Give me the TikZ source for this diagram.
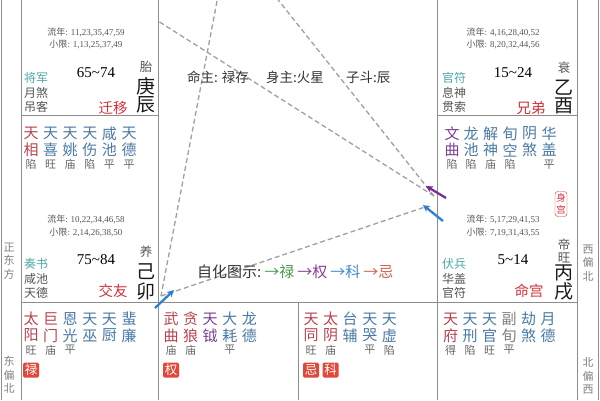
\documentclass[tikz,border=0pt]{standalone}
\usepackage{fontspec}
\setmainfont{Liberation Serif}
\newfontfamily\cjk{Noto Sans CJK SC}
\usetikzlibrary{arrows.meta}
\definecolor{gridc}{HTML}{8C8C8C}
\definecolor{dashc}{HTML}{A0A0A0}
\definecolor{sred}{HTML}{B8434F}
\definecolor{sblue}{HTML}{4A7AA5}
\definecolor{spurp}{HTML}{7B3F95}
\definecolor{sgray}{HTML}{808080}
\definecolor{brc}{HTML}{666666}
\definecolor{tealc}{HTML}{4FA8A8}
\definecolor{pred}{HTML}{D2323C}
\definecolor{darkt}{HTML}{333333}
\definecolor{midg}{HTML}{555555}
\definecolor{hgreen}{HTML}{4C9A4C}
\definecolor{hpurp}{HTML}{8A3C96}
\definecolor{hblue}{HTML}{3C8AD2}
\definecolor{hred}{HTML}{D4604F}
\definecolor{boxred}{HTML}{E2483A}
\definecolor{arblue}{HTML}{2F7FD0}
\definecolor{arpurp}{HTML}{7A2A9A}
\tikzset{
  gridl/.style={draw=gridc, line width=0.9pt},
  dashl/.style={draw=dashc, line width=1.3pt, dash pattern=on 5pt off 3pt},
  arrowl/.style={line width=2.3pt, -{Stealth[length=7pt,width=7pt]}},
  xf/.style={inner sep=0pt, font=\cjk\fontsize{15}{15}\selectfont},
  bf/.style={inner sep=0pt, text=brc, font=\cjk\fontsize{11}{11}\selectfont},
  lnf/.style={inner sep=0pt, text=midg, font=\fontsize{9}{9}\selectfont},
  agef/.style={inner sep=0pt, text=black, font=\fontsize{15}{15}\selectfont},
  godf/.style={inner sep=0pt, anchor=west, text=midg, font=\cjk\fontsize{12}{12}\selectfont},
  pnf/.style={inner sep=0pt, text=pred, font=\cjk\fontsize{14.5}{14.5}\selectfont},
  gzf/.style={inner sep=0pt, text=black!90, font=\cjk\fontsize{19}{19}\selectfont},
  csf/.style={inner sep=0pt, text=midg, font=\cjk\fontsize{12.5}{12.5}\selectfont},
  dirf/.style={inner sep=0pt, align=center, text=sgray, font=\cjk\fontsize{11}{13.5}\selectfont},
  midf/.style={inner sep=0pt, anchor=west, text=darkt, font=\cjk\fontsize{13.5}{13.5}\selectfont},
  hbox/.style={fill=boxred, text=white, inner sep=0pt, minimum width=16pt, minimum height=15pt, rounded corners=1.5pt, font=\cjk\fontsize{12.5}{12.5}\selectfont},
}
\newcommand\xing[7]{%
  \node[xf,text=#4] (#1-a) at (#2,#3) {#5};
  \node[xf,text=#4] (#1-b) at (#2,#3+16.5) {#6};
  \if\relax\detokenize{#7}\relax\else
  \node[bf] (#1-c) at (#2,#3+31) {#7};\fi
}
\begin{document}
\begin{tikzpicture}[x=1pt,y=-1pt]
\useasboundingbox (0,0) rectangle (600,400);
\fill[white] (0,0) rectangle (600,400);
\begin{scope}
\clip (0,0) rectangle (600,400);
% grid
\draw[gridl] (1.5,0) -- (1.5,400);
\draw[gridl] (598,0) -- (598,400);
\draw[gridl] (21,0) -- (21,400);
\draw[gridl] (158,0) -- (158,400);
\draw[gridl] (437,0) -- (437,400);
\draw[gridl] (577,0) -- (577,400);
\draw[gridl] (298,302) -- (298,400);
\draw[gridl] (21,115) -- (158,115);
\draw[gridl] (437,115) -- (577,115);
\draw[gridl] (21,302) -- (577,302);
% dashed triangle
\coordinate (xu) at (434,196);
\coordinate (xu2) at (428,206);
\coordinate (chen) at (158,21);
\coordinate (wu) at (229,-62);
\coordinate (yin) at (161,296);
\draw[dashl] (xu) -- (chen);
\draw[dashl] (xu) -- (wu);
\draw[dashl] (wu) -- (yin);
\draw[dashl] (yin) -- (xu2);
\end{scope}
% arrows
\coordinate (pa1) at (446,198);
\coordinate (pa2) at (426,186);
\coordinate (ba1) at (443,221);
\coordinate (ba2) at (423,205);
\coordinate (bb1) at (155,308);
\coordinate (bb2) at (174,290);
\draw[arrowl, draw=arpurp, fill=arpurp] (pa1) -- (pa2);
\draw[arrowl, draw=arblue, fill=arblue] (ba1) -- (ba2);
\draw[arrowl, draw=arblue, fill=arblue] (bb1) -- (bb2);

% ===== 辰 palace (top-left)
\node[lnf] (chen-ln) at (86,32) {{\cjk 流年}: 11,23,35,47,59};
\node[lnf] (chen-xx) at (86,44) {{\cjk 小限}: 1,13,25,37,49};
\node[csf] (chen-cs) at (146,67) {胎};
\node[gzf] (chen-g1) at (146,86) {庚};
\node[gzf] (chen-g2) at (146,105) {辰};
\node[agef] (chen-age) at (96,73) {65\textasciitilde 74};
\node[godf,text=tealc] (chen-s1) at (24,78) {将军};
\node[godf] (chen-s2) at (24,93) {月煞};
\node[godf] (chen-s3) at (24,107) {吊客};
\node[pnf] (chen-pn) at (113,108) {迁移};

% ===== 酉 palace (top-right)
\node[lnf] (you-ln) at (503,32) {{\cjk 流年}: 4,16,28,40,52};
\node[lnf] (you-xx) at (503,44) {{\cjk 小限}: 8,20,32,44,56};
\node[csf] (you-cs) at (564,68) {衰};
\node[gzf] (you-g1) at (564,88) {乙};
\node[gzf] (you-g2) at (564,106) {酉};
\node[agef] (you-age) at (513,73) {15\textasciitilde 24};
\node[godf,text=tealc] (you-s1) at (442,78) {官符};
\node[godf] (you-s2) at (442,93) {息神};
\node[godf] (you-s3) at (442,107) {贯索};
\node[pnf] (you-pn) at (531,108) {兄弟};

% ===== 卯 palace (left middle)
\xing{m1}{31}{133.5}{sred}{天}{相}{陷}
\xing{m2}{50.6}{133.5}{sblue}{天}{喜}{旺}
\xing{m3}{70.2}{133.5}{sblue}{天}{姚}{庙}
\xing{m4}{89.8}{133.5}{sblue}{天}{伤}{陷}
\xing{m5}{109.4}{133.5}{sblue}{咸}{池}{平}
\xing{m6}{129}{133.5}{sblue}{天}{德}{平}
\node[lnf] (mao-ln) at (86,219) {{\cjk 流年}: 10,22,34,46,58};
\node[lnf] (mao-xx) at (86,232) {{\cjk 小限}: 2,14,26,38,50};
\node[csf] (mao-cs) at (146,252) {养};
\node[gzf] (mao-g1) at (146,272) {己};
\node[gzf] (mao-g2) at (146,291) {卯};
\node[agef] (mao-age) at (96,260) {75\textasciitilde 84};
\node[godf,text=tealc] (mao-s1) at (24,264) {奏书};
\node[godf] (mao-s2) at (24,279) {咸池};
\node[godf] (mao-s3) at (24,293) {天德};
\node[pnf] (mao-pn) at (113,291) {交友};

% ===== 戌 palace (right middle)
\xing{x1}{452}{133.5}{spurp}{文}{曲}{陷}
\xing{x2}{471}{133.5}{sblue}{龙}{池}{陷}
\xing{x3}{490.5}{133.5}{sblue}{解}{神}{庙}
\xing{x4}{510}{133.5}{sblue}{旬}{空}{陷}
\xing{x5}{529.5}{133.5}{sblue}{阴}{煞}{}
\xing{x6}{549}{133.5}{sblue}{华}{盖}{平}
\node[draw=pred, text=pred, rounded corners=3pt, inner sep=1pt, minimum width=12pt, minimum height=25pt, align=center, font=\cjk\fontsize{9.5}{12}\selectfont] (shen) at (561,204) {身\\宫};
\node[lnf] (xu-ln) at (503,219) {{\cjk 流年}: 5,17,29,41,53};
\node[lnf] (xu-xx) at (503,232) {{\cjk 小限}: 7,19,31,43,55};
\node[csf] (xu-cs1) at (564,245) {帝};
\node[csf] (xu-cs2) at (564,257.5) {旺};
\node[gzf] (xu-g1) at (564,273) {丙};
\node[gzf] (xu-g2) at (564,291) {戌};
\node[agef] (xu-age) at (513,260) {5\textasciitilde 14};
\node[godf,text=tealc] (xu-s1) at (442,264) {伏兵};
\node[godf] (xu-s2) at (442,279) {华盖};
\node[godf] (xu-s3) at (442,293) {官符};
\node[pnf] (xu-pn) at (529,291) {命宫};

% ===== 寅 palace (bottom-left)
\xing{y1}{31}{319}{sred}{太}{阳}{旺}
\xing{y2}{50.6}{319}{sred}{巨}{门}{庙}
\xing{y3}{70.2}{319}{sblue}{恩}{光}{平}
\xing{y4}{89.8}{319}{sblue}{天}{巫}{}
\xing{y5}{109.4}{319}{sblue}{天}{厨}{}
\xing{y6}{129}{319}{sblue}{蜚}{廉}{}
\node[hbox] (yin-lu) at (31,370) {禄};

% ===== 丑 palace
\xing{c1}{171}{319}{sred}{武}{曲}{庙}
\xing{c2}{190.6}{319}{sred}{贪}{狼}{庙}
\xing{c3}{210.2}{319}{spurp}{天}{钺}{}
\xing{c4}{229.8}{319}{sblue}{大}{耗}{平}
\xing{c5}{249.4}{319}{sblue}{龙}{德}{}
\node[hbox] (chou-quan) at (171,370) {权};

% ===== 子 palace
\xing{z1}{311}{319}{sred}{天}{同}{旺}
\xing{z2}{330.6}{319}{sred}{太}{阴}{庙}
\xing{z3}{350.2}{319}{sblue}{台}{辅}{}
\xing{z4}{369.8}{319}{sblue}{天}{哭}{平}
\xing{z5}{389.4}{319}{sblue}{天}{虚}{陷}
\node[hbox] (zi-ji) at (311,370) {忌};
\node[hbox] (zi-ke) at (330.6,370) {科};

% ===== 亥 palace
\xing{h1}{450.5}{319}{sred}{天}{府}{得}
\xing{h2}{470}{319}{sblue}{天}{刑}{陷}
\xing{h3}{489.5}{319}{sblue}{天}{官}{旺}
\xing{h4}{509}{319}{sgray}{副}{旬}{平}
\xing{h5}{528.5}{319}{sblue}{劫}{煞}{}
\xing{h6}{548}{319}{sblue}{月}{德}{}

% ===== direction labels
\node[dirf] (d1) at (9,261) {正\\东\\方};
\node[dirf] (d2) at (9,375) {东\\偏\\北};
\node[dirf] (d3) at (588,263) {西\\偏\\北};
\node[dirf] (d4) at (588,376) {北\\偏\\西};

% ===== middle texts
\node[midf] (mz1) at (187,77) {命主: 禄存};
\node[midf] (mz2) at (266,77) {身主:火星};
\node[midf] (mz3) at (346,77) {子斗:辰};
\node[midf, font=\cjk\fontsize{15}{15}\selectfont] (zh) at (197,272) {自化图示:\hspace{3pt}\textcolor{hgreen}{→禄}\hspace{3pt}\textcolor{hpurp}{→权}\hspace{3pt}\textcolor{hblue}{→科}\hspace{3pt}\textcolor{hred}{→忌}};
\end{tikzpicture}
\end{document}
